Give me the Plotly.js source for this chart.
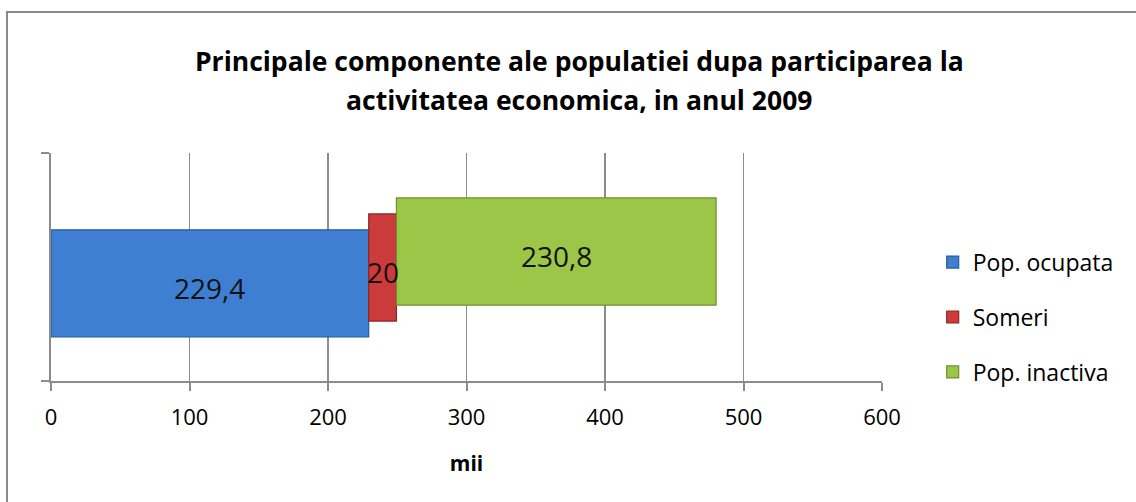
<!DOCTYPE html>
<html>
<head>
<meta charset="utf-8">
<script src="https://cdn.plot.ly/plotly-3.0.1.min.js"></script>
<style>
  html, body { margin: 0; padding: 0; background: #fff; }
  #wrap { position: relative; width: 1136px; height: 502px; overflow: hidden; }
  #chart { position: absolute; left: 0; top: 0; width: 1136px; height: 502px; }
  #frame { position: absolute; left: 6px; top: 11px; width: 1200px; height: 600px;
           border-left: 2px solid #8a8a8a; border-top: 2px solid #8a8a8a; pointer-events: none; }
</style>
</head>
<body>
<div id="wrap"><div id="chart"></div><div id="frame"></div></div>
<script>
// ---- data ----
const seriesNames = ["Pop. ocupata", "Someri", "Pop. inactiva"];
const seriesValues = [229.4, 20, 230.8];
const valueLabels = ["229,4", "20", "230,8"];
const xTicks = [0, 100, 200, 300, 400, 500, 600];
const titleLine1 = "Principale componente ale populatiei dupa participarea la";
const titleLine2 = "activitatea economica, in anul 2009";
const xAxisTitle = "mii";

// ---- style ----
const fills = ["#3f7fd2", "#cc3b3b", "#9cc648"];
const edges = ["#2b5c9a", "#8e2626", "#6e8f2e"];
const offsets = [-0.307, -0.237, -0.167];
const barWidth = 0.47;
const FONT = "Open Sans, Lato, sans-serif";

const traces = [];
const annotations = [];
let base = 0;
seriesValues.forEach((v, i) => {
  traces.push({
    type: "bar",
    orientation: "h",
    name: seriesNames[i],
    legendgroup: "g" + i,
    x: [v],
    y: [0.5],
    base: [base],
    width: [barWidth],
    offset: [offsets[i]],
    marker: { color: fills[i], line: { color: edges[i], width: 1.2 } },
    hoverinfo: "x+name"
  });
  annotations.push({
    x: base + v / 2,
    y: 0.5 + offsets[i] + barWidth / 2 - 0.02,
    xref: "x", yref: "y",
    text: valueLabels[i],
    showarrow: false,
    font: { family: FONT, size: 28, color: "#111" }
  });
  base += v;
});

annotations.push({
  x: 0.635, y: 1, xref: "paper", yref: "paper",
  xanchor: "center", yanchor: "bottom", yshift: 33,
  text: "<b>" + titleLine2 + "</b>", showarrow: false,
  font: { family: FONT, size: 26.5, color: "#000" }
});

const layout = {
  width: 1136, height: 502,
  margin: { l: 51, r: 254, t: 153, b: 121, pad: 0 },
  paper_bgcolor: "#fff", plot_bgcolor: "#fff",
  barmode: "overlay",
  showlegend: true,
  title: {
    text: "<b>" + titleLine1 + "</b>",
    font: { family: FONT, size: 26.5, color: "#000" },
    x: 0.51, xanchor: "center", y: 0.877, yanchor: "middle"
  },
  xaxis: {
    range: [0, 600],
    tickvals: xTicks,
    ticktext: xTicks.map(String),
    showgrid: true, gridcolor: "#8c8c8c", gridwidth: 1.5,
    zeroline: false,
    showline: true, linecolor: "#8c8c8c", linewidth: 2,
    ticks: "outside", ticklen: 8, tickcolor: "#8c8c8c", tickwidth: 2,
    ticklabelstandoff: 8,
    tickfont: { family: FONT, size: 22, color: "#000" },
    title: { text: "<b>" + xAxisTitle + "</b>", font: { family: FONT, size: 21, color: "#000" }, standoff: 26 },
    fixedrange: true
  },
  yaxis: {
    range: [0, 1],
    tickvals: [0, 1],
    showticklabels: false,
    showgrid: false, zeroline: false,
    showline: true, linecolor: "#8c8c8c", linewidth: 2,
    ticks: "outside", ticklen: 8, tickcolor: "#8c8c8c", tickwidth: 2,
    fixedrange: true
  },
  legend: {
    x: 1.061, xanchor: "left",
    y: 0.28, yanchor: "middle",
    traceorder: "grouped",
    tracegroupgap: 22,
    font: { family: FONT, size: 23, color: "#000" },
    bgcolor: "rgba(0,0,0,0)"
  },
  annotations: annotations
};

Plotly.newPlot("chart", traces, layout, { displayModeBar: false, staticPlot: true });
</script>
</body>
</html>
